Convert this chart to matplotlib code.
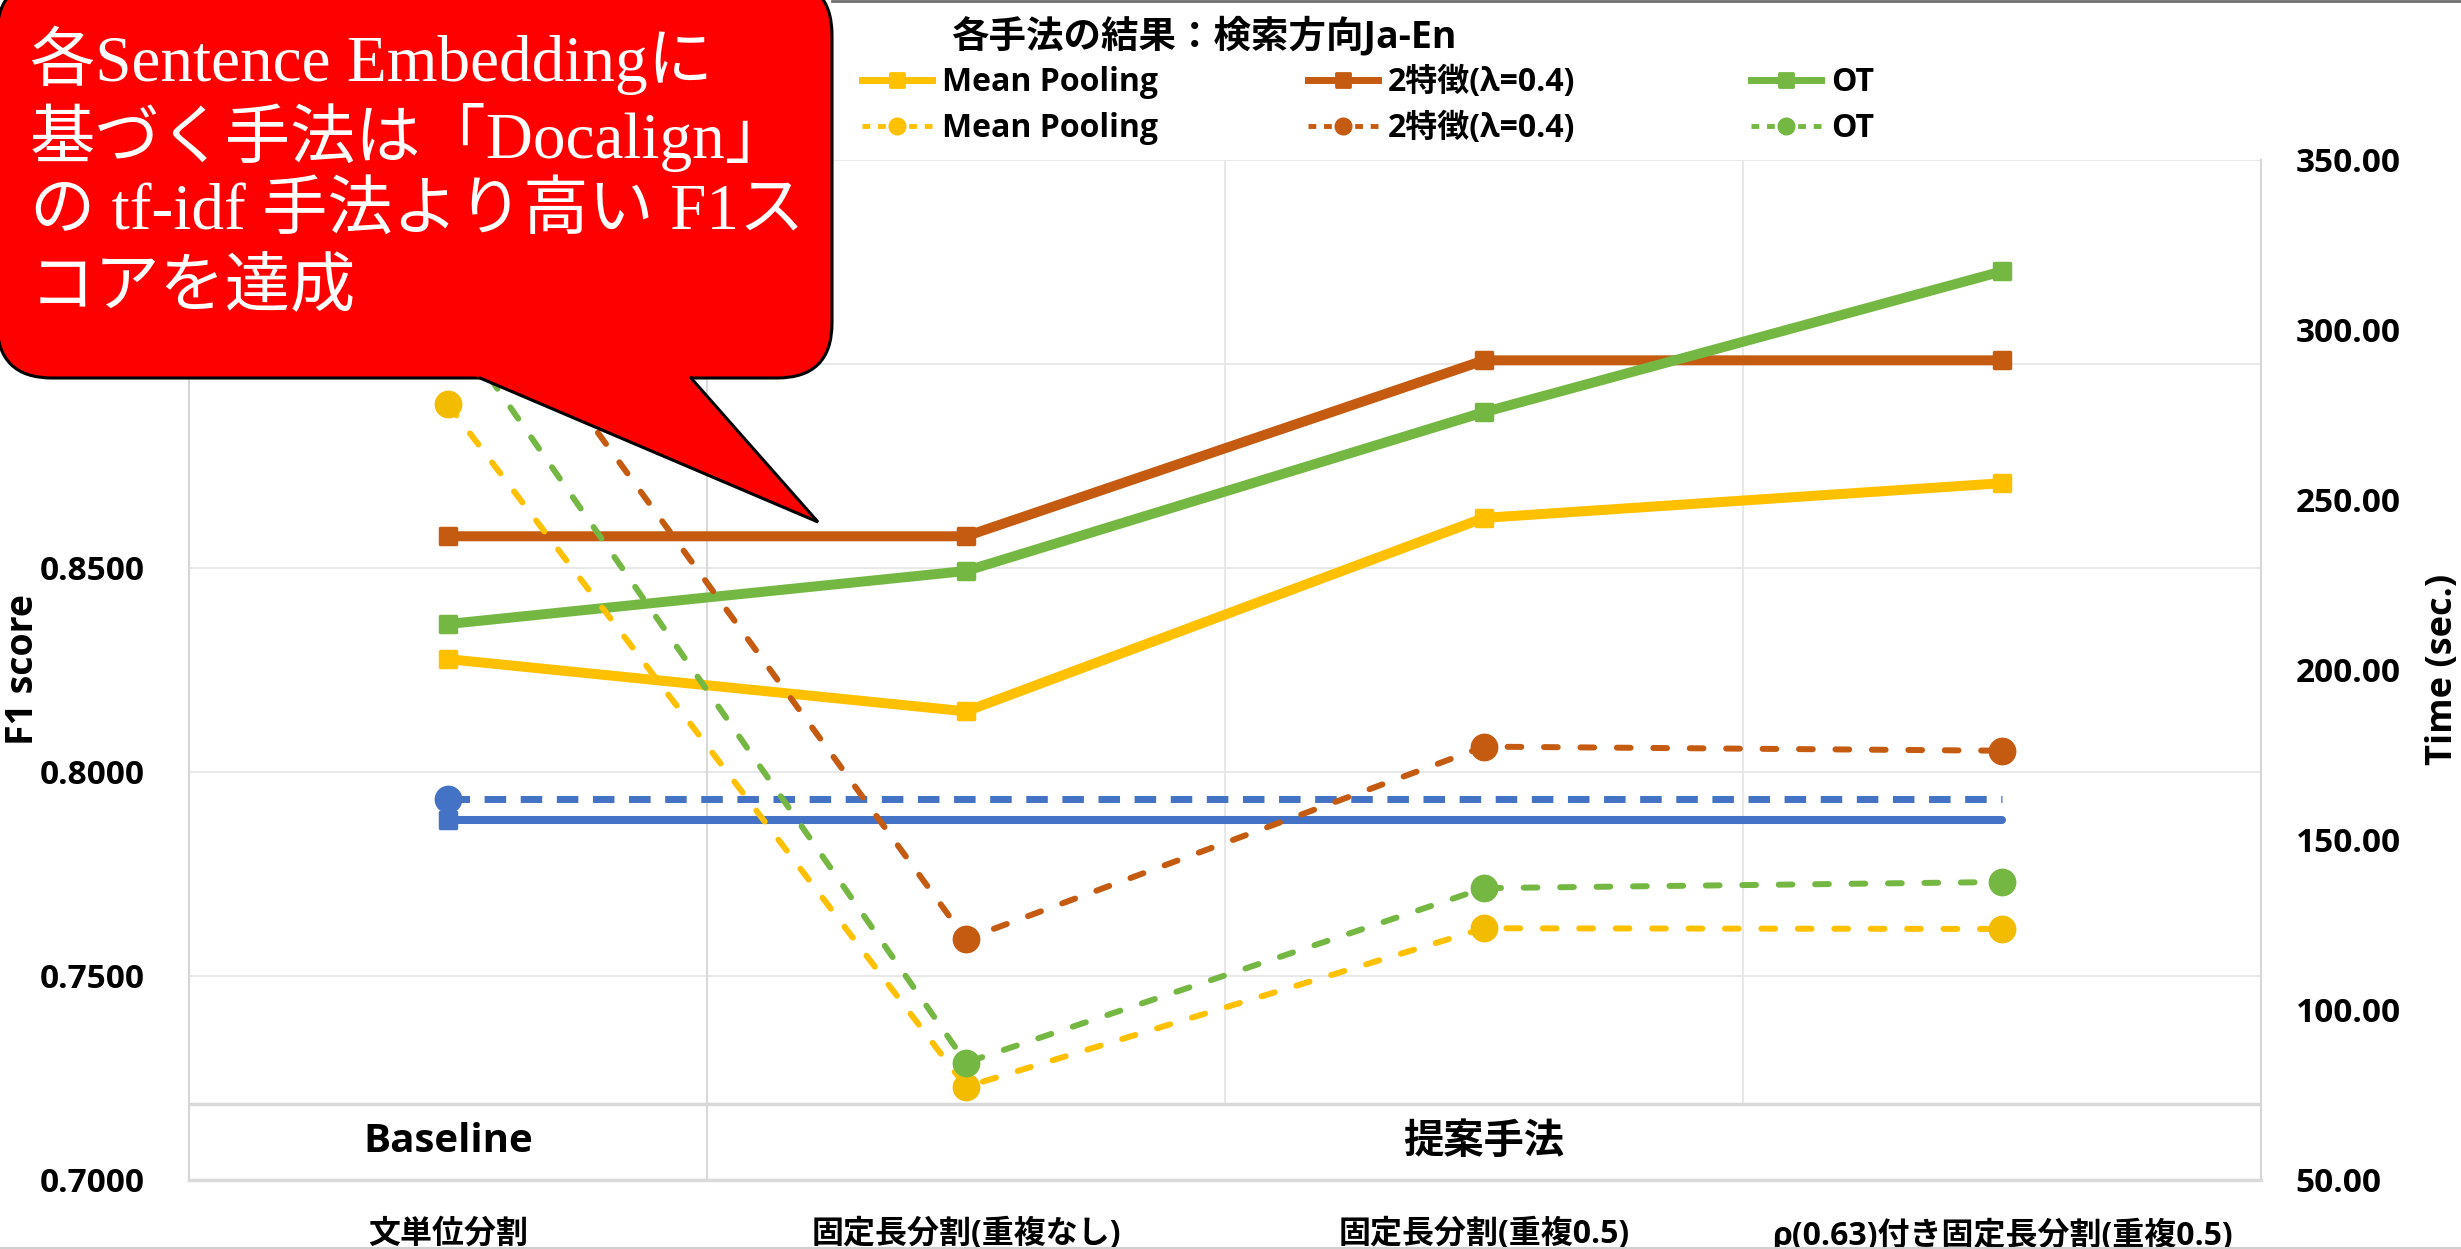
import numpy as np
import matplotlib
matplotlib.use("Agg")
import matplotlib.pyplot as plt
import matplotlib.transforms as mtransforms
from matplotlib.lines import Line2D
from matplotlib.markers import MarkerStyle
from matplotlib.patches import FancyBboxPatch, Polygon

plt.rcParams['font.family'] = ['Open Sans', 'Noto Sans CJK JP']
plt.rcParams['font.weight'] = 'bold'
plt.rcParams['axes.labelweight'] = 'bold'

# -----------------------------
# data
# -----------------------------
categories = ["文単位分割", "固定長分割(重複なし)", "固定長分割(重複0.5)", "ρ(0.63)付き固定長分割(重複0.5)"]
groups = ["Baseline", "提案手法"]
group_centers = [0, 2]

# F1 score (left axis)
f1_mean = [0.8276, 0.8148, 0.8622, 0.8707]
f1_2feat = [0.8577, 0.8577, 0.9008, 0.9008]
f1_ot = [0.8362, 0.8492, 0.8881, 0.9226]
f1_docalign = [0.7881, 0.7881, 0.7881, 0.7881]

# time in seconds (right axis)
time_mean = [278.0, 77.4, 124.0, 123.8]
time_2feat = [330.3, 120.8, 177.4, 176.2]
time_ot = [303.5, 84.5, 135.8, 137.6]
time_docalign = [162.0, 162.0, 162.0, 162.0]

series_names = ["Mean Pooling", "2特徴(λ=0.4)", "OT"]

f1_ticks = [0.70, 0.75, 0.80, 0.85, 0.90, 0.95]
time_ticks = [50, 100, 150, 200, 250, 300, 350]

YELLOW = "#FFC000"
YELLOW_DK = "#F4BC00"
ORANGE = "#C55A11"
GREEN = "#74B843"
BLUE = "#4472C4"

W, H = 2461, 1249

# -----------------------------
# figure / axes
# -----------------------------
fig = plt.figure(figsize=(W / 100, H / 100), dpi=100)
ax = fig.add_axes([189 / W, 1 - 1180 / H, 2072 / W, 1020.5 / H])
ax2 = ax.twinx()

x = np.arange(len(categories))
sq = MarkerStyle('s', joinstyle='round')

solid_kw = dict(lw=7.2, marker=sq, ms=12, mew=2.5, solid_capstyle='round',
                solid_joinstyle='round', zorder=3)
ax.plot(x, f1_docalign, color=BLUE, markevery=[0], **{**solid_kw, 'lw': 5.8})
ax.plot(x, f1_mean, color=YELLOW, **solid_kw)
ax.plot(x, f1_2feat, color=ORANGE, **solid_kw)
ax.plot(x, f1_ot, color=GREEN, **solid_kw)

dash_kw = dict(lw=4.3, ls=(0, (2.3, 3.8)), dash_capstyle='round', marker='o', ms=18, mew=2)
ax2.plot(x, time_docalign, color=BLUE, lw=5.0, ls=(0, (3.1, 2.1)), marker='o',
         ms=18, mew=2, markevery=[0])
ax2.plot(x, time_mean, color=YELLOW, mfc=YELLOW_DK, mec=YELLOW_DK, **dash_kw)
ax2.plot(x, time_2feat, color=ORANGE, **dash_kw)
ax2.plot(x, time_ot, color=GREEN, **dash_kw)

ax.set_xlim(-0.5, 3.5)
ax.set_ylim(0.70, 0.95)
ax2.set_ylim(50, 350)

# labels for 0.90 / 0.95 sit under the speech bubble, so they are left blank
ax.set_yticks(f1_ticks, [f"{v:.4f}" if v < 0.88 else "" for v in f1_ticks])
ax2.set_yticks(time_ticks, [f"{v:.2f}" for v in time_ticks])
ax.set_xticks(x, categories)
ax.tick_params(axis='x', length=0, pad=27, labelsize=23)
ax.tick_params(axis='y', length=0, pad=32, labelsize=24)
ax2.tick_params(axis='y', length=0, pad=25, labelsize=24)

ax.set_ylabel("F1 score", fontsize=27, fontweight='bold')
ax.yaxis.set_label_coords(-0.071, 0.5)
ax2.set_ylabel("Time (sec.)", fontsize=26, fontweight='bold')
ax2.yaxis.set_label_coords(1.079, 0.5)

# frame and gridlines
ax.grid(axis='y', color='#e8e8e8', lw=1.5)
ax.set_axisbelow(True)
for s in ax2.spines.values():
    s.set_visible(False)
ax.spines['top'].set_visible(False)
for s in ('left', 'right'):
    ax.spines[s].set_color('#d6d6d6')
    ax.spines[s].set_linewidth(1.5)
ax.spines['bottom'].set_color('#d9d9d9')
ax.spines['bottom'].set_linewidth(2.5)

# group label box at the bottom of the plot area
box_frac = 76 / 1020
ax.axvline(0.5, color='#d9d9d9', lw=1.5, zorder=1)
for b in (1.5, 2.5):
    ax.axvline(b, ymin=box_frac, color='#e8e8e8', lw=1.5, zorder=1)
ax.axhline(0.70 + box_frac * 0.25, color='#d9d9d9', lw=2.5, zorder=1)
blend = mtransforms.blended_transform_factory(ax.transData, ax.transAxes)
for gx, g in zip(group_centers, groups):
    ax.text(gx, box_frac / 2, g, transform=blend, ha='center', va='center', fontsize=29)

# title and legend
fig.text(1204 / W, 1 - 37 / H, "各手法の結果：検索方向Ja-En", ha='center', va='center', fontsize=27)

colors = [YELLOW, ORANGE, GREEN]
col_x = [862, 1308, 1751]
for name, c, cx in zip(series_names, colors, col_x):
    h_solid = Line2D([], [], color=c, lw=5, marker=sq, ms=10, mew=2)
    h_dash = Line2D([], [], color=c, lw=3.5, ls=(0, (1.6, 1.6)), marker='o', ms=12)
    fig.legend([h_solid, h_dash], [name, name], loc='upper left',
               bbox_to_anchor=(cx / W, 1 - 66 / H), frameon=False, fontsize=23,
               handlelength=2.2, handletextpad=0.3, borderpad=0, borderaxespad=0,
               labelspacing=0.42)

# -----------------------------
# speech bubble
# -----------------------------
ov = fig.add_axes([0, 0, 1, 1], zorder=10)
ov.set_xlim(0, W)
ov.set_ylim(H, 0)
ov.axis('off')

ov.add_patch(FancyBboxPatch((-3, -20), 835, 398, boxstyle='round,pad=0,rounding_size=55',
                            fc='#ff0000', ec='black', lw=2.2))
ov.add_patch(Polygon([(449.5, 365), (818, 522), (679.5, 365)], closed=True,
                     fc='#ff0000', ec='none'))
ov.plot([480, 818, 691], [378, 522, 378], color='black', lw=2.2, solid_joinstyle='miter')

bubble_lines = ["各Sentence Embeddingに", "基づく手法は「Docalign」",
                "の tf-idf 手法より高い F1ス", "コアを達成"]
for yc, line in zip([60, 137, 213, 290], bubble_lines):
    ov.text(30, yc, line, color='white', fontsize=47, fontweight='normal',
            family=['Liberation Serif', 'Noto Sans CJK JP'], ha='left', va='center')

# outer chart border
ov.plot([832, W], [1, 1], color='#707070', lw=2)
ov.plot([0, W], [H - 1, H - 1], color='#d0d0d0', lw=1.5)

fig.savefig("out.png", dpi=100)
